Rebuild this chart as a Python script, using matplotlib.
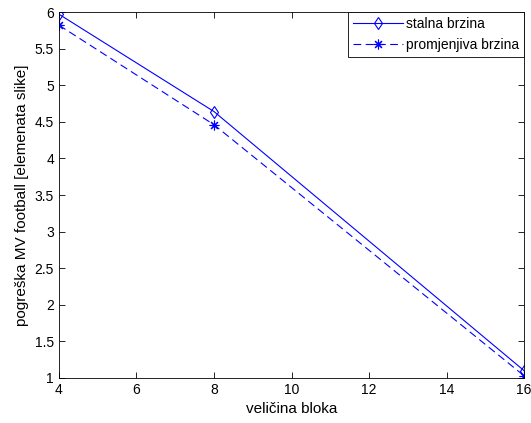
import numpy as np
import matplotlib
matplotlib.use('Agg')
import matplotlib.pyplot as plt

plt.rcParams['font.family'] = ['Liberation Sans', 'DejaVu Sans']

velicina = [4, 8, 16]
stalna = [5.97, 4.64, 1.10]
promjenjiva = [5.82, 4.46, 1.03]

fig = plt.figure(figsize=(5.31, 4.23), dpi=100)
ax = fig.add_axes([0.111, 0.1064, 0.876, 0.8652])

ax.plot(velicina, stalna, '-', color='#0000ff', lw=0.8, marker='d',
        mfc='none', mec='#0000ff', ms=6.5, mew=0.8, label='stalna brzina')
ax.plot(velicina, promjenjiva, '--', color='#0000ff', lw=0.8, marker=(8, 2, 0),
        ms=7, mew=0.8, label='promjenjiva brzina', dashes=(7, 4))

ax.set_xlim(4, 16)
ax.set_ylim(1, 6)
ax.set_xticks(np.arange(4, 17, 2))
ax.set_yticks(np.arange(1, 6.01, 0.5))
ax.set_yticklabels(['1', '1.5', '2', '2.5', '3', '3.5', '4', '4.5', '5', '5.5', '6'])
ax.tick_params(direction='in', top=True, right=True, length=4, labelsize=10, width=0.6)
for s in ax.spines.values():
    s.set_linewidth(0.6)

ax.set_xlabel('veličina bloka', fontsize=11)
ax.set_ylabel('pogreška MV football [elemenata slike]', fontsize=11)

leg = ax.legend(loc='upper right', fontsize=10, fancybox=False, framealpha=1,
                edgecolor='black', borderaxespad=0, handlelength=3.6,
                handletextpad=0.2, borderpad=0.35, labelspacing=0.5)
leg.get_frame().set_linewidth(0.6)

fig.savefig('out.png', dpi=100)
